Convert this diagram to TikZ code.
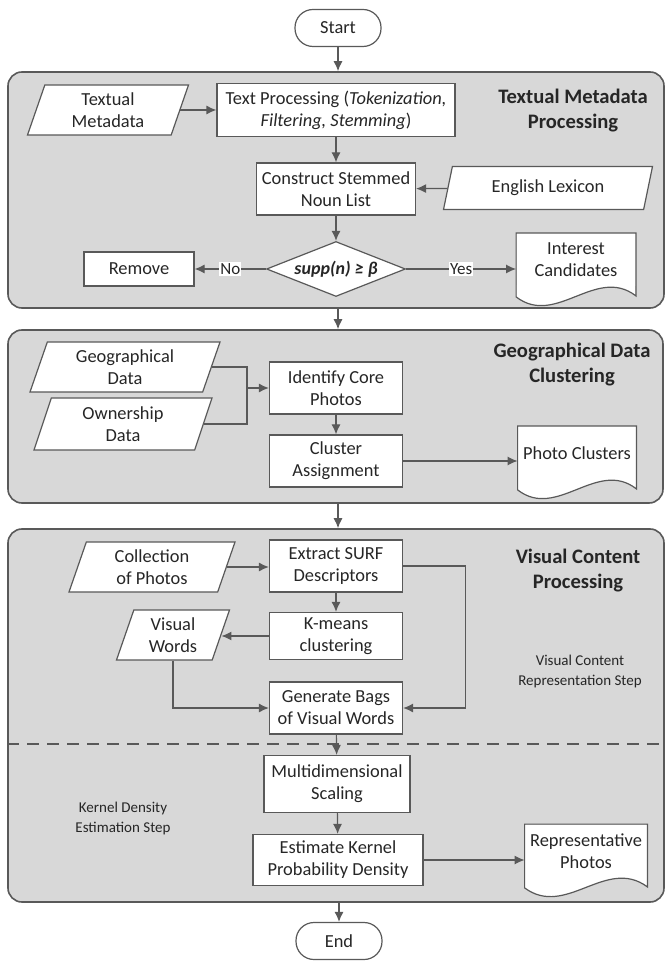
\documentclass[tikz,border=0pt]{standalone}
\usepackage{fontspec}
\setmainfont{Carlito}
\usepackage{tikz}
\usetikzlibrary{calc}
\usetikzlibrary{arrows.meta}
\usetikzlibrary{shapes.geometric}
\definecolor{boxline}{RGB}{89,89,89}
\definecolor{panelfill}{RGB}{216,216,216}
\definecolor{inkgray}{RGB}{38,38,38}
\tikzset{>={Latex[length=5pt,width=4.5pt]}}
\tikzstyle{panel} = [rectangle, rounded corners=7pt, draw=boxline, line width=0.8pt, fill=panelfill]
\tikzstyle{proc} = [rectangle, draw=boxline, line width=0.6pt, fill=white, align=center, inner sep=1pt, text=inkgray, font=\fontsize{9.2}{11}\selectfont]
\tikzstyle{iodata} = [proc, trapezium, trapezium left angle=66, trapezium right angle=114, trapezium stretches body]
\tikzstyle{term} = [proc, rounded corners=9pt, minimum width=43pt, minimum height=18.5pt]
\tikzstyle{doc} = [rectangle, align=center, inner sep=1pt, fill=white, text=inkgray, font=\fontsize{9.2}{11}\selectfont, minimum height=26.5pt]
\tikzstyle{decide} = [proc, diamond, shape aspect=2.5, inner sep=0pt, minimum width=69.5pt, minimum height=27.5pt, font=\bfseries\itshape\fontsize{9}{11}\selectfont]
\tikzstyle{title} = [align=center, text=inkgray, font=\bfseries\fontsize{10.3}{12.5}\selectfont]
\tikzstyle{note} = [align=center, text=inkgray, font=\fontsize{7.5}{10}\selectfont]
\tikzstyle{lab} = [fill=white, inner sep=0.5pt, text=inkgray, font=\fontsize{8.5}{10}\selectfont]
\tikzstyle{flow} = [->, draw=boxline, line width=0.6pt]
\tikzstyle{link} = [-, draw=boxline, line width=0.6pt]
% wavy bottom of a document node
\newcommand{\docwave}[1]{%
  \fill [white] ($(#1.south east)+(-0.3pt,1pt)$) -- ($(#1.south east)+(-0.3pt,-4.5pt)$) .. controls ($(#1.south)+(10pt,10.8pt)$) and ($(#1.south)+(-10pt,-20.3pt)$) .. ($(#1.south west)+(0.3pt,-5pt)$) -- ($(#1.south west)+(0.3pt,1pt)$) -- cycle;
  \draw [boxline, line width=0.6pt] (#1.north west) -- (#1.north east) -- ($(#1.south east)+(0pt,-4.5pt)$) .. controls ($(#1.south)+(10pt,10.8pt)$) and ($(#1.south)+(-10pt,-20.3pt)$) .. ($(#1.south west)+(0pt,-5pt)$) -- cycle;
}

\begin{document}
\begin{tikzpicture}[x=0.5pt, y=-0.5pt]
\useasboundingbox (0,0) rectangle (665,961);

\node [term] (ST) at (338, 28) {Start};

% three stages
\node [panel, minimum width=328pt, minimum height=118pt] (P1) at (336, 190) {};
\node [panel, minimum width=327.5pt, minimum height=86.5pt] (P2) at (335.5, 416.5) {};
\node [panel, minimum width=328pt, minimum height=186.5pt] (P3) at (336, 715.5) {};

% textual metadata
\node [iodata, minimum width=80.5pt, minimum height=25pt] (TM) at (108, 110) {Textual\\Metadata};
\node [proc, minimum width=119pt, minimum height=26.5pt] (TP) at (336, 110) {Text Processing (\textit{Tokenization,}\\\textit{Filtering, Stemming})};
\node [title] (T1) at (573, 111) {Textual Metadata\\Processing};
\node [proc, minimum width=79.5pt, minimum height=26pt] (NL) at (336, 189) {Construct Stemmed\\Noun List};
\node [iodata, minimum width=104.5pt, minimum height=21.5pt] (EL) at (548, 188) {English Lexicon};
\node [decide] (D) at (336, 269) {supp(n) ≥ β};
\node [proc, minimum width=55pt, minimum height=17pt] (RM) at (139, 269) {Remove};
\node [doc, minimum width=59.5pt] (IC) at (576, 260) {Interest\\Candidates};
\docwave{IC}

% geographical data
\node [iodata, minimum width=95pt, minimum height=25pt] (GD) at (125, 367) {Geographical\\Data};
\node [iodata, minimum width=89pt, minimum height=26pt] (OD) at (123, 424) {Ownership\\Data};
\node [proc, minimum width=66.5pt, minimum height=26pt] (CP) at (336, 388) {Identify Core\\Photos};
\node [proc, minimum width=66.5pt, minimum height=26pt] (CA) at (336, 461) {Cluster\\Assignment};
\node [doc, minimum width=59pt] (PC) at (577, 453) {Photo Clusters};
\docwave{PC}
\node [title] (T2) at (572, 365) {Geographical Data\\Clustering};
\coordinate (J) at (247, 388);

% visual content
\node [iodata, minimum width=83pt, minimum height=25pt] (CO) at (152, 567) {Collection\\of Photos};
\node [proc, minimum width=66.5pt, minimum height=26pt] (SD) at (336, 566) {Extract SURF\\Descriptors};
\node [title] (T3) at (578, 571) {Visual Content\\Processing};
\node [proc, minimum width=66.5pt, minimum height=23.5pt] (KM) at (336, 636) {K-means\\clustering};
\node [iodata, minimum width=56.5pt, minimum height=25pt] (VW) at (173, 635) {Visual\\Words};
\node [proc, minimum width=66.5pt, minimum height=26pt] (BV) at (336, 708) {Generate Bags\\of Visual Words};
\node [note] (S1) at (580, 671) {Visual Content\\Representation Step};
\draw [boxline, line width=0.8pt, dash pattern=on 6pt off 4pt] (P3.west |- 0,744) -- (P3.east |- 0,744);
\node [proc, minimum width=73pt, minimum height=28.5pt] (MD) at (337, 784) {Multidimensional\\Scaling};
\node [note] (S2) at (123, 818) {Kernel Density\\Estimation Step};
\node [proc, minimum width=85pt, minimum height=25.5pt] (KD) at (338, 860) {Estimate Kernel\\Probability Density};
\node [doc, minimum width=61pt] (RP) at (586, 851) {Representative\\Photos};
\docwave{RP}

\node [term] (EN) at (339, 941) {End};

\draw [flow] (ST) -- (ST |- P1.north);
\draw [flow] (TM) -- (TP);
\draw [flow] (TP) -- (NL);
\draw [flow] (EL) -- (NL);
\draw [flow] (NL) -- (D);
\draw [flow] (D) -- node [lab] {No} (RM);
\draw [flow] (D.east) -- node [lab] {Yes} (D.east -| IC.west);
\draw [flow] (P1.south -| ST) -- (P2.north -| ST);
\draw [link] (GD.east) -| (J) |- (OD.east);
\draw [flow] (J) -- (CP);
\draw [flow] (CP) -- (CA);
\draw [flow] (CA.east) -- (CA.east -| PC.west);
\draw [flow] (P2.south -| ST) -- (P3.north -| ST);
\draw [flow] (CO.east) -- (CO.east -| SD.west);
\draw [flow] (SD) -- (KM);
\draw [flow] (KM.west) -- (KM.west -| VW.east);
\draw [flow] (VW.south) |- (BV.west);
\draw [flow] (SD.east) -- ++(62,0) |- (BV.east);
\draw [flow] (BV) -- (MD);
\draw [flow] (MD) -- (KD);
\draw [flow] (KD.east) -- (KD.east -| RP.west);
\draw [flow] (P3.south -| EN) -- (EN);
\end{tikzpicture}
\end{document}
